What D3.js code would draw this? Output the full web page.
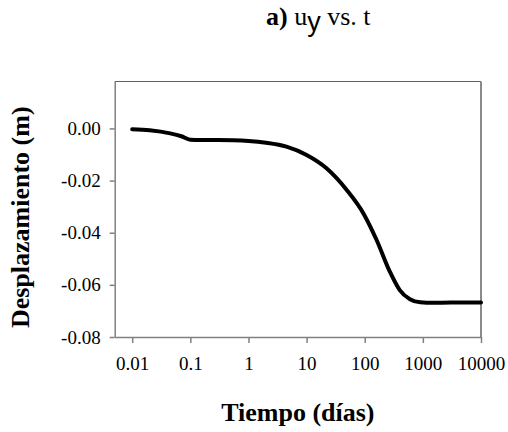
<!DOCTYPE html>
<html>
<head>
<meta charset="utf-8">
<script src="https://cdn.jsdelivr.net/npm/d3@7"></script>
<style>
  html, body { margin: 0; padding: 0; background: #fff; }
  svg { display: block; }
</style>
</head>
<body>
<script>
const times = [0.01, 0.02, 0.045, 0.07, 0.1, 0.15, 0.3, 0.55, 1, 2, 4.5, 10, 22, 49, 95, 160, 270, 400, 600, 900, 1500, 3000, 10000];
const disp  = [-0.0003, -0.0007, -0.0019, -0.0030, -0.0043, -0.0044, -0.0044, -0.0045, -0.0048, -0.0055, -0.0070, -0.0102, -0.0153, -0.0236, -0.0326, -0.0428, -0.0549, -0.0620, -0.0655, -0.0667, -0.0669, -0.0668, -0.0668];
const xTicks = [0.01, 0.1, 1, 10, 100, 1000, 10000];
const xTickLabels = ["0.01", "0.1", "1", "10", "100", "1000", "10000"];
const yTicks = [0, -0.02, -0.04, -0.06, -0.08];
const yTickLabels = ["0.00", "-0.02", "-0.04", "-0.06", "-0.08"];
const xTitle = "Tiempo (días)";
const yTitle = "Desplazamiento (m)";

const SERIF = "Liberation Serif";
const W = 508, H = 432;
const L = 114.7, R = 481, T = 81.5, B = 337;

const svg = d3.select("body").append("svg").attr("width", W).attr("height", H);

const x = d3.scaleLog().domain([0.005, 10000]).range([L, R]);
const y = d3.scaleLinear().domain([-0.08, 0.018]).range([B, T]);

// frame (top & right)
svg.append("line").attr("x1", L).attr("x2", R).attr("y1", T).attr("y2", T)
  .attr("stroke", "#606060").attr("stroke-width", 1.2);
svg.append("line").attr("x1", R).attr("x2", R).attr("y1", T).attr("y2", B)
  .attr("stroke", "#8a8a8a").attr("stroke-width", 2);

// x axis
const xAxis = d3.axisBottom(x).tickValues(xTicks)
  .tickFormat((d, i) => xTickLabels[i]).tickSize(6).tickSizeOuter(0).tickPadding(14);
const gx = svg.append("g").attr("transform", `translate(0,${B})`).call(xAxis)
  .attr("font-family", SERIF).attr("font-size", 19);
gx.select(".domain").attr("stroke", "#808080").attr("stroke-width", 1.5);
gx.selectAll(".tick line").attr("stroke", "#808080").attr("stroke-width", 1.5);
gx.selectAll(".tick text").attr("fill", "#000");

// y axis
const yAxis = d3.axisLeft(y).tickValues(yTicks)
  .tickFormat((d, i) => yTickLabels[i]).tickSize(5).tickSizeOuter(0).tickPadding(9);
const gy = svg.append("g").attr("transform", `translate(${L},0)`).call(yAxis)
  .attr("font-family", SERIF).attr("font-size", 19);
gy.select(".domain").attr("stroke", "#808080").attr("stroke-width", 1.5);
gy.selectAll(".tick line").attr("stroke", "#808080").attr("stroke-width", 1.5);
gy.selectAll(".tick text").attr("fill", "#000");

// curve
const data = times.map((t, i) => [t, disp[i]]);
svg.append("path").datum(data)
  .attr("fill", "none").attr("stroke", "#000").attr("stroke-width", 4)
  .attr("stroke-linecap", "round").attr("stroke-linejoin", "round")
  .attr("d", d3.line().x(d => x(d[0])).y(d => y(d[1])).curve(d3.curveMonotoneX));

// title
const title = svg.append("text").attr("x", 266).attr("y", 25)
  .attr("font-family", SERIF).attr("font-size", 26);
title.append("tspan").attr("font-weight", "bold").text("a)");
title.append("tspan").text(" u");
title.append("tspan").attr("font-family", "Liberation Sans")
  .attr("font-size", 27).attr("dy", 6).text("y");
title.append("tspan").attr("dy", -6).text(" vs. t");

// axis titles
svg.append("text").attr("x", (L + R) / 2).attr("y", 421).attr("text-anchor", "middle")
  .attr("font-family", SERIF).attr("font-size", 26).attr("font-weight", "bold").text(xTitle);
svg.append("text").attr("transform", `translate(29,${(T + B) / 2 + 8}) rotate(-90)`)
  .attr("text-anchor", "middle").attr("font-family", SERIF)
  .attr("font-size", 26).attr("font-weight", "bold").text(yTitle);
</script>
</body>
</html>
